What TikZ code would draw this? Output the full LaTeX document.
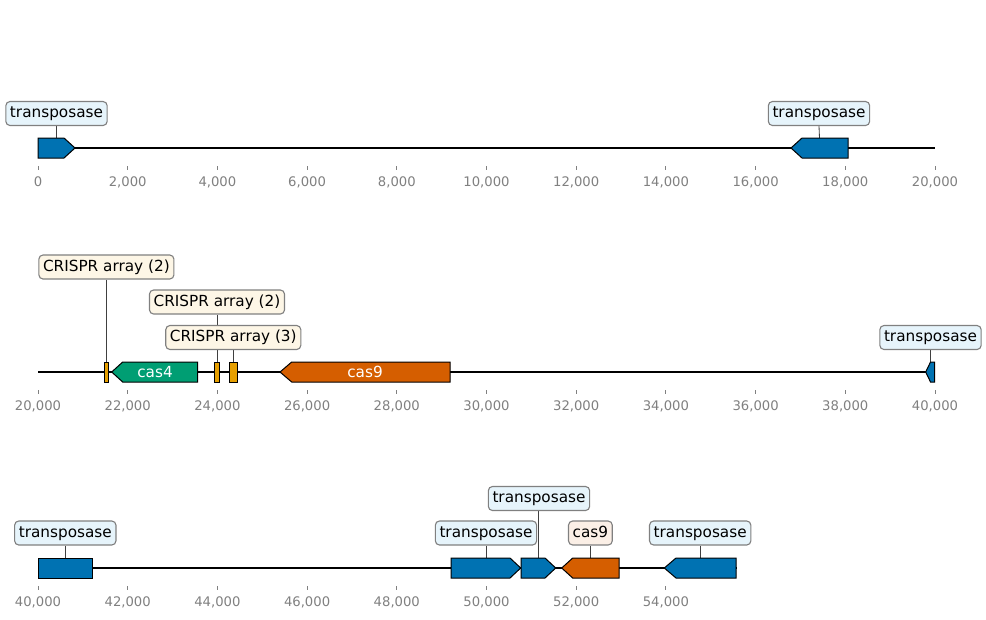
\documentclass[tikz,border=0pt]{standalone}
\usepackage{fontspec}
\setmainfont{DejaVu Sans}
\usetikzlibrary{backgrounds}
\definecolor{tblue}{HTML}{0072B2}
\definecolor{tgreen}{HTML}{009E73}
\definecolor{torange}{HTML}{D55E00}
\definecolor{tyellow}{HTML}{E69F00}
\definecolor{lblue}{HTML}{E6F4FB}
\definecolor{lyellow}{HTML}{FDF6E6}
\definecolor{lorange}{HTML}{FBEFE6}
\definecolor{tickgray}{HTML}{808080}
\begin{document}
\begin{tikzpicture}[x=0.72pt,y=-0.72pt,
  feat/.style={draw=black,line width=0.72pt,line join=miter},
  lbl/.style={draw=tickgray,rounded corners=3pt,line width=0.8pt,
    font=\fontsize{11}{13}\selectfont,text height=8.2pt,text depth=2.3pt,
    inner xsep=3pt,inner ysep=3.4pt},
  stem/.style={draw=black!75,line width=0.6pt},
  axisline/.style={draw=black,line width=1.1pt},
  tickmark/.style={draw=tickgray,line width=0.7pt},
  ticklbl/.style={text=tickgray,font=\fontsize{9.5}{11}\selectfont,inner sep=0pt},
  inlbl/.style={text=white,font=\fontsize{11}{13}\selectfont,inner sep=0pt}]
\useasboundingbox (0,0) rectangle (986,619);

% ---------- track 1 ----------
\draw[axisline] (38,148) -- (935,148);
\foreach \i/\t in {0/0,1/{2,000},2/{4,000},3/{6,000},4/{8,000},5/{10,000},6/{12,000},7/{14,000},8/{16,000},9/{18,000},10/{20,000}}{
  \draw[tickmark] (38+\i*89.7,166) -- (38+\i*89.7,170);
  \node[ticklbl] (ta\i) at (38+\i*89.7,182) {\t};
}
\draw[feat,fill=tblue] (38,138) -- (64,138) -- (75,148) -- (64,158) -- (38,158) -- cycle;
\draw[feat,fill=tblue] (791,148) -- (802,138) -- (848,138) -- (848,158) -- (802,158) -- cycle;
\coordinate (fa1) at (56.5,138);
\coordinate (fa2) at (819.5,138);
\node[lbl,fill=lblue] (la1) at (56.5,113.5) {transposase};
\node[lbl,fill=lblue] (la2) at (819,113.5) {transposase};

% ---------- track 2 ----------
\draw[axisline] (38,372) -- (935,372);
\foreach \i/\t in {0/{20,000},1/{22,000},2/{24,000},3/{26,000},4/{28,000},5/{30,000},6/{32,000},7/{34,000},8/{36,000},9/{38,000},10/{40,000}}{
  \draw[tickmark] (38+\i*89.7,390) -- (38+\i*89.7,394);
  \node[ticklbl] (tb\i) at (38+\i*89.7,406) {\t};
}
\draw[feat,fill=tyellow] (104,362) rectangle (108.7,382);
\draw[feat,fill=tgreen] (111.7,372) -- (122.7,362) -- (197.7,362) -- (197.7,382) -- (122.7,382) -- cycle;
\node[inlbl] (ncas4) at (155,372) {cas4};
\draw[feat,fill=tyellow] (214.3,362) rectangle (219.7,382);
\draw[feat,fill=tyellow] (229.3,362) rectangle (237.3,382);
\draw[feat,fill=torange] (280,372) -- (291.7,362) -- (450,362) -- (450,382) -- (291.7,382) -- cycle;
\node[inlbl] (ncas9) at (365,372) {cas9};
\draw[feat,fill=tblue] (925.7,372) -- (930.5,362) -- (934.7,362) -- (934.7,382) -- (930.5,382) -- cycle;
\coordinate (fb1) at (106.4,362);
\coordinate (fb2) at (217,362);
\coordinate (fb3) at (233.3,362);
\coordinate (fb4) at (930.5,362);
\node[lbl,fill=lyellow] (lb1) at (106.4,267) {CRISPR array (2)};
\node[lbl,fill=lyellow] (lb2) at (217,302) {CRISPR array (2)};
\node[lbl,fill=lyellow] (lb3) at (233.3,337.5) {CRISPR array (3)};
\node[lbl,fill=lblue] (lb4) at (930.5,337.5) {transposase};

% ---------- track 3 ----------
\draw[axisline] (38,568) -- (737,568);
\foreach \i/\t in {0/{40,000},1/{42,000},2/{44,000},3/{46,000},4/{48,000},5/{50,000},6/{52,000},7/{54,000}}{
  \draw[tickmark] (38+\i*89.7,586) -- (38+\i*89.7,590);
  \node[ticklbl] (tc\i) at (38+\i*89.7,602) {\t};
}
\draw[feat,fill=tblue] (38.3,558) rectangle (92.3,578);
\draw[feat,fill=tblue] (451,558) -- (510,558) -- (520.7,568) -- (510,578) -- (451,578) -- cycle;
\draw[feat,fill=tblue] (521,558) -- (545,558) -- (555.7,568) -- (545,578) -- (521,578) -- cycle;
\draw[feat,fill=torange] (561.7,568) -- (572.7,558) -- (619,558) -- (619,578) -- (572.7,578) -- cycle;
\draw[feat,fill=tblue] (664.3,568) -- (676,558) -- (736,558) -- (736,578) -- (676,578) -- cycle;
\coordinate (fc1) at (65.3,558);
\coordinate (fc2) at (486,558);
\coordinate (fc3) at (538.6,558);
\coordinate (fc4) at (590.4,558);
\coordinate (fc5) at (700.2,558);
\node[lbl,fill=lblue] (lc1) at (65.3,533) {transposase};
\node[lbl,fill=lblue] (lc2) at (486,533) {transposase};
\node[lbl,fill=lblue] (lc3) at (539,498.5) {transposase};
\node[lbl,fill=lorange] (lc4) at (590.4,533) {cas9};
\node[lbl,fill=lblue] (lc5) at (700.2,533) {transposase};

% ---------- stems ----------
\begin{scope}[on background layer]
\draw[stem] (la1.south) -- (fa1);
\draw[stem] (la2.south) -- (fa2);
\draw[stem] (lb1.south) -- (fb1);
\draw[stem] (lb2.south) -- (fb2);
\draw[stem] (lb3.south) -- (fb3);
\draw[stem] (lb4.south) -- (fb4);
\draw[stem] (lc1.south) -- (fc1);
\draw[stem] (lc2.south) -- (fc2);
\draw[stem] (lc3.south -| fc3) -- (fc3);
\draw[stem] (lc4.south) -- (fc4);
\draw[stem] (lc5.south) -- (fc5);
\end{scope}
\end{tikzpicture}
\end{document}
